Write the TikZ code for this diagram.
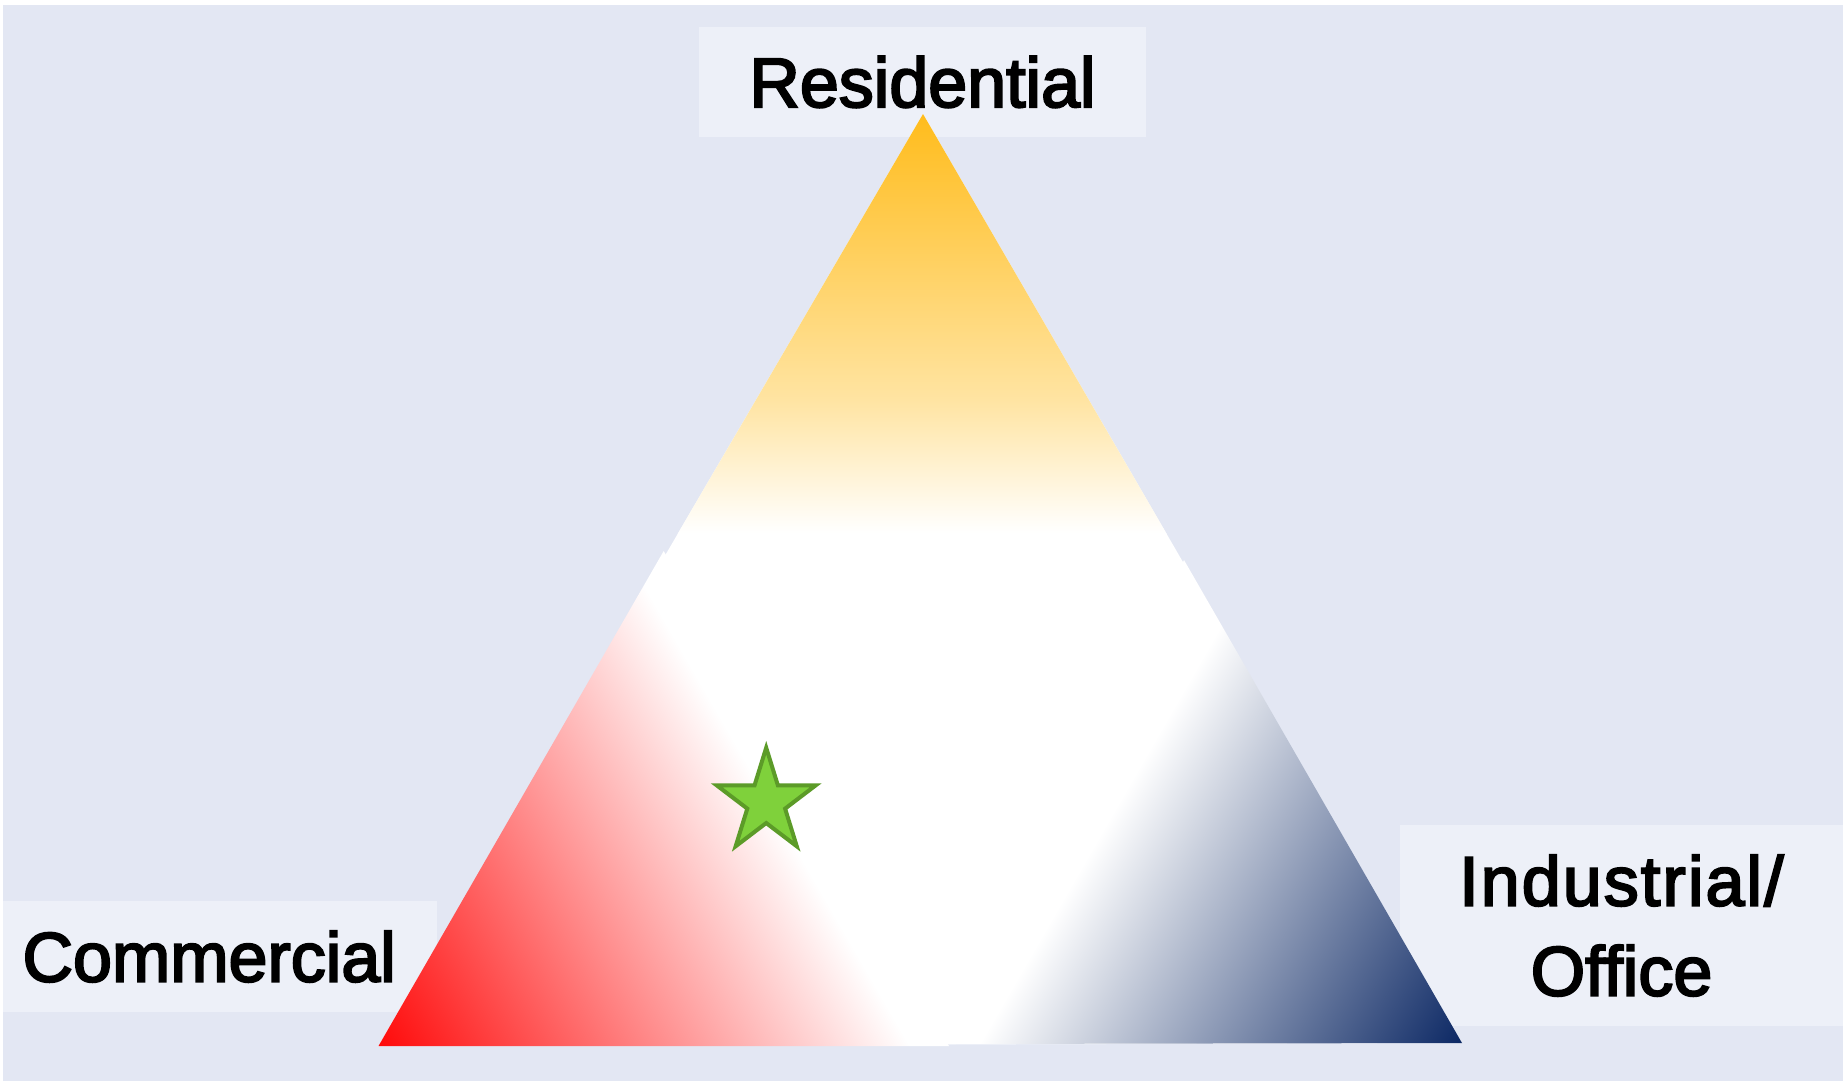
\documentclass[tikz,border=0pt]{standalone}
\usepackage{fontspec}
\setmainfont{Liberation Sans}
\newfontfamily\lblfont{Liberation Sans}[FakeBold=3]
\definecolor{bgc}{RGB}{227,231,243}
\definecolor{boxc}{RGB}{237,240,248}
\definecolor{orng}{RGB}{255,188,28}
\definecolor{orngmid}{RGB}{255,228,162}
\definecolor{redc}{RGB}{255,10,10}
\definecolor{navyc}{RGB}{12,40,100}
\definecolor{starfill}{RGB}{127,209,59}
\definecolor{starline}{RGB}{92,155,40}
\pgfdeclarehorizontalshading{redgrad}{100bp}{color(0bp)=(redc); color(26.86bp)=(redc); color(55.63bp)=(white); color(100bp)=(white)}
\pgfdeclarehorizontalshading{navygrad}{100bp}{color(0bp)=(white); color(45.4bp)=(white); color(71.5bp)=(navyc); color(100bp)=(navyc)}
\pgfdeclareverticalshading{orggrad}{100bp}{color(0bp)=(white); color(25bp)=(white); color(40.9bp)=(orngmid); color(75bp)=(orng); color(100bp)=(orng)}
\begin{document}
\begin{tikzpicture}[x=1pt,y=-1pt,
  lbl/.style={fill=boxc, font=\lblfont\fontsize{70}{90}\selectfont, inner sep=0pt, text=black},
  starstyle/.style={fill=starfill, draw=starline, line width=4pt, line join=miter}]
\useasboundingbox (0,0) rectangle (1843,1081);
\fill[white] (0,0) rectangle (1843,1081);
\fill[bgc] (3,5) rectangle (1843,1081);
% labels (behind the triangle)
\node[lbl, minimum width=447pt, minimum height=110pt] (res) at (922.5,82) {\raisebox{-2pt}{Residential}};
\node[lbl, minimum width=434pt, minimum height=111pt, inner xsep=19.5pt, text width=395pt, align=left] (com) at (220,956.5) {Commercial};
\node[lbl, minimum width=443pt, minimum height=201pt, align=center] (ind) at (1621.5,925.5) {{\addfontfeature{LetterSpace=3}Industrial/}\\Office};
% top piece (orange)
\begin{scope}
  \clip (923,114) -- (378.5,1046) -- (1462,1043) -- cycle;
  \fill[white] (370,100) rectangle (1470,1050);
  \shade[shading=orggrad] (370,114) rectangle (1470,533);
\end{scope}
% lower left piece (red)
\begin{scope}
  \clip (378.5,1046) -- (949,1046) -- (663.7,551) -- cycle;
  \shade[shading=redgrad, transform canvas={rotate around={30:(664,800)}}] (264,400) rectangle (1064,1200);
\end{scope}
% lower right piece (navy)
\begin{scope}
  \clip (948,1044) -- (1462,1043) -- (1184,560) -- cycle;
  \shade[shading=navygrad, transform canvas={rotate around={-30:(1205,800)}}] (805,400) rectangle (1605,1200);
\end{scope}
% star
\draw[starstyle] (766.2,747.7) -- (777.87,785.36) -- (815.66,785.36) -- (785.09,808.63)
  -- (796.77,846.29) -- (766.2,823.02) -- (735.63,846.29) -- (747.31,808.63)
  -- (716.74,785.36) -- (754.53,785.36) -- cycle;
\end{tikzpicture}
\end{document}
